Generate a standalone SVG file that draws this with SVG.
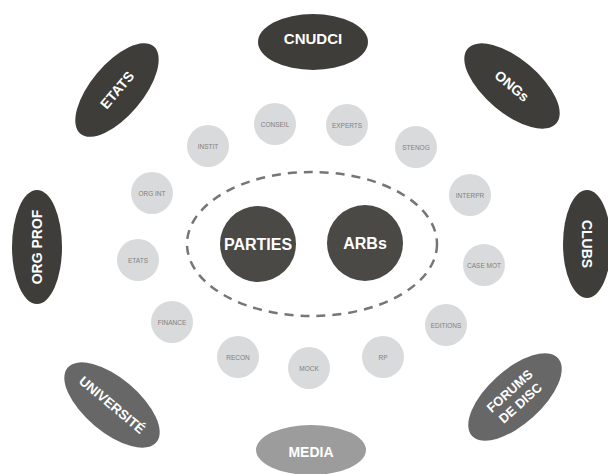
<svg xmlns="http://www.w3.org/2000/svg" width="608" height="474" viewBox="0 0 608 474">
<style>
.dark{fill:#3e3d39}
.mid{fill:#676767}
.light{fill:#9c9c9c}
.big{font-family:"Liberation Sans",Arial,sans-serif;font-weight:bold;fill:#ffffff;text-anchor:middle;dominant-baseline:central}
.sm circle{fill:#d9dadc}
.sm text{font-family:"Liberation Sans",Arial,sans-serif;font-size:6.5px;fill:#808080;text-anchor:middle;dominant-baseline:central}
.core{fill:#4a4946}
</style>
<rect width="608" height="474" fill="#ffffff"/>
<g id="connectors">
<ellipse cx="312" cy="244" rx="125" ry="72" fill="none" stroke="#767676" stroke-width="2.5" stroke-dasharray="9 7"/>
</g>
<g id="cnudci"><ellipse class="dark" cx="313" cy="42" rx="55" ry="28"/><text class="big" x="313" y="38" font-size="15">CNUDCI</text></g>
<g id="etats-outer" transform="translate(117 90) rotate(-50)"><ellipse class="dark" rx="57" ry="26"/><text class="big" font-size="14">ETATS</text></g>
<g id="ongs" transform="translate(512 86) rotate(40)"><ellipse class="dark" rx="58" ry="27"/><text class="big" font-size="14">ONGs</text></g>
<g id="orgprof" transform="translate(37 247)"><ellipse class="dark" rx="25" ry="57"/><text class="big" font-size="14" transform="rotate(-90)">ORG PROF</text></g>
<g id="clubs" transform="translate(587 244)"><ellipse class="dark" rx="24" ry="54"/><text class="big" font-size="14" transform="rotate(90)">CLUBS</text></g>
<g id="universite" transform="translate(112 405) rotate(40)"><ellipse class="mid" rx="58" ry="27"/><text class="big" font-size="13.5">UNIVERSITÉ</text></g>
<g id="forums" transform="translate(515 397) rotate(-42)"><ellipse class="mid" rx="58" ry="27"/><text class="big" font-size="13" y="-8">FORUMS</text><text class="big" font-size="13" y="8">DE DISC</text></g>
<g id="media"><ellipse class="light" cx="311" cy="450" rx="55" ry="25"/><text class="big" x="311" y="452" font-size="14">MEDIA</text></g>
<g id="conseil" class="sm"><circle cx="275" cy="124" r="21"/><text x="275" y="124">CONSEIL</text></g>
<g id="experts" class="sm"><circle cx="347" cy="125" r="21"/><text x="347" y="125">EXPERTS</text></g>
<g id="instit" class="sm"><circle cx="208" cy="146" r="21"/><text x="208" y="146">INSTIT</text></g>
<g id="stenog" class="sm"><circle cx="416" cy="147" r="21"/><text x="416" y="147">STENOG</text></g>
<g id="orgint" class="sm"><circle cx="152" cy="193" r="21"/><text x="152" y="193">ORG INT</text></g>
<g id="interpr" class="sm"><circle cx="470" cy="195" r="21"/><text x="470" y="195">INTERPR</text></g>
<g id="etats-inner" class="sm"><circle cx="138" cy="260" r="21"/><text x="138" y="260">ETATS</text></g>
<g id="casemot" class="sm"><circle cx="484" cy="265" r="21"/><text x="484" y="265">CASE MOT</text></g>
<g id="finance" class="sm"><circle cx="172" cy="322" r="21"/><text x="172" y="322">FINANCE</text></g>
<g id="editions" class="sm"><circle cx="446" cy="325" r="21"/><text x="446" y="325">EDITIONS</text></g>
<g id="recon" class="sm"><circle cx="238" cy="357" r="21"/><text x="238" y="357">RECON</text></g>
<g id="mock" class="sm"><circle cx="309" cy="368" r="21"/><text x="309" y="368">MOCK</text></g>
<g id="rp" class="sm"><circle cx="383" cy="357" r="21"/><text x="383" y="357">RP</text></g>
<g id="parties"><circle class="core" cx="258" cy="244" r="38"/><text class="big" x="258" y="244" font-size="16">PARTIES</text></g>
<g id="arbs"><circle class="core" cx="365" cy="243" r="38"/><text class="big" x="365" y="243" font-size="16">ARBs</text></g>
</svg>
